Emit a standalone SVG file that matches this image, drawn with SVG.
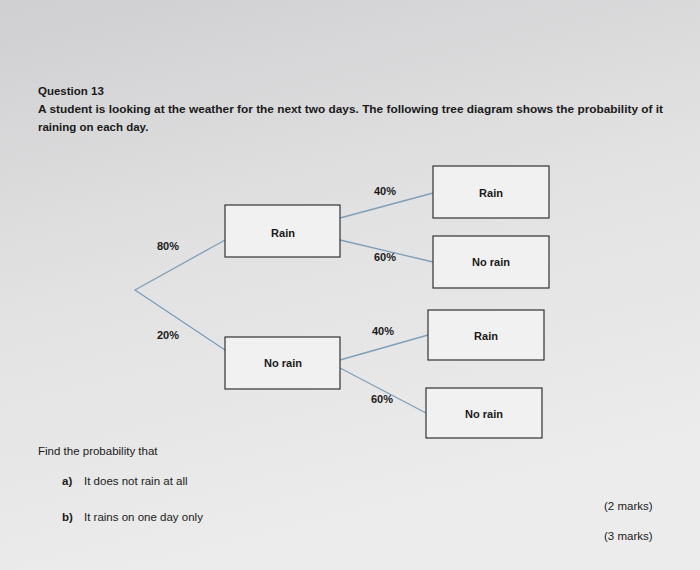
<svg xmlns="http://www.w3.org/2000/svg" width="700" height="570" viewBox="0 0 700 570">
<defs>
<linearGradient id="bg" x1="0" y1="0" x2="0.3" y2="1">
<stop offset="0" stop-color="#cfcfd1"/><stop offset="0.5" stop-color="#e2e2e3"/><stop offset="1" stop-color="#ececec"/>
</linearGradient>
</defs>
<style>
text{font-family:"Liberation Sans",Arial,sans-serif;fill:#1a1a1a;font-size:11.5px}
.b{font-weight:bold}
.box{fill:#f1f1f1;stroke:#333;stroke-width:1.2}
.ln{stroke:#7f9fb8;stroke-width:1.3;fill:none}
.c{text-anchor:middle;font-size:11px;font-weight:bold}
</style>
<rect width="700" height="570" fill="url(#bg)"/>
<text x="38" y="95" class="b">Question 13</text>
<text x="38" y="113" class="b" textLength="625" lengthAdjust="spacingAndGlyphs">A student is looking at the weather for the next two days. The following tree diagram shows the probability of it</text>
<text x="38" y="131" class="b">raining on each day.</text>
<g id="connectors">
<polyline class="ln" points="225,240 135,290 225,350"/>
<line class="ln" x1="340" y1="218" x2="433" y2="193"/>
<line class="ln" x1="340" y1="240" x2="433" y2="262"/>
<line class="ln" x1="340" y1="360" x2="428" y2="335"/>
<line class="ln" x1="340" y1="368" x2="426" y2="413"/>
</g>
<g id="labels">
<text x="168" y="250" class="c">80%</text>
<text x="168" y="339" class="c">20%</text>
<text x="385" y="195" class="c">40%</text>
<text x="385" y="261" class="c">60%</text>
<text x="383" y="335" class="c">40%</text>
<text x="382" y="403" class="c">60%</text>
</g>
<g id="n1"><rect class="box" x="225" y="205" width="115" height="52"/><text x="283" y="237" class="c">Rain</text></g>
<g id="n2"><rect class="box" x="225" y="337" width="115" height="52"/><text x="283" y="367" class="c">No rain</text></g>
<g id="n3"><rect class="box" x="433" y="166" width="116" height="52"/><text x="491" y="197" class="c">Rain</text></g>
<g id="n4"><rect class="box" x="433" y="236" width="116" height="52"/><text x="491" y="266" class="c">No rain</text></g>
<g id="n5"><rect class="box" x="428" y="310" width="116" height="50"/><text x="486" y="340" class="c">Rain</text></g>
<g id="n6"><rect class="box" x="426" y="388" width="116" height="50"/><text x="484" y="418" class="c">No rain</text></g>
<text x="38" y="455">Find the probability that</text>
<text x="62" y="485" class="b">a)</text><text x="84" y="485">It does not rain at all</text>
<text x="62" y="521" class="b">b)</text><text x="84" y="521">It rains on one day only</text>
<text x="604" y="510">(2 marks)</text>
<text x="604" y="540">(3 marks)</text>
</svg>
